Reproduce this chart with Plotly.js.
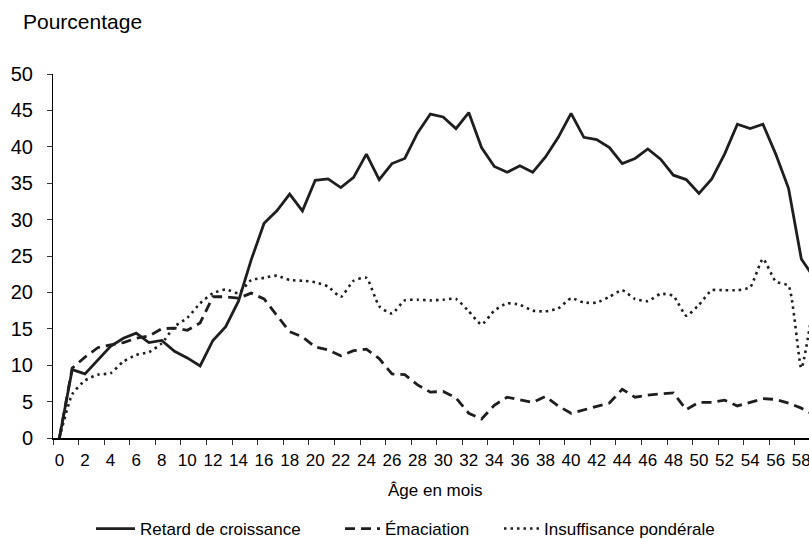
<!DOCTYPE html>
<html>
<head>
<meta charset="utf-8">
<script src="https://cdn.plot.ly/plotly-3.0.1.min.js"></script>
<style>html,body{margin:0;padding:0;background:#fff;overflow:hidden;}</style>
</head>
<body>
<div id="chart" style="width:809px;height:539px;"></div>
<script>
const ages = [];
for (let m = 0; m <= 59; m++) ages.push(m);

const retardCroissance = [0, 9.4, 8.8, 10.7, 12.6, 13.7, 14.4, 13.1, 13.4, 11.9,
  11.0, 9.9, 13.4, 15.3, 18.8, 24.5, 29.5, 31.2, 33.5, 31.2,
  35.4, 35.6, 34.4, 35.8, 39.0, 35.5, 37.7, 38.4, 41.9, 44.5,
  44.1, 42.5, 44.7, 39.9, 37.3, 36.5, 37.4, 36.5, 38.6, 41.3,
  44.6, 41.3, 41.0, 39.9, 37.7, 38.4, 39.7, 38.3, 36.1, 35.5,
  33.6, 35.6, 39.0, 43.1, 42.5, 43.1, 39.0, 34.3, 24.6, 22.0];

const emaciation = [0, 9.6, 11.1, 12.4, 12.8, 13.1, 13.7, 14.0, 15.0, 15.1,
  14.8, 15.8, 19.4, 19.4, 19.2, 19.9, 19.1, 16.9, 14.6, 13.9,
  12.5, 12.1, 11.3, 12.0, 12.2, 10.9, 8.8, 8.7, 7.3, 6.3,
  6.4, 5.5, 3.4, 2.6, 4.5, 5.6, 5.2, 4.9, 5.7, 4.4,
  3.4, 3.9, 4.3, 4.8, 6.7, 5.6, 5.9, 6.0, 6.2, 3.9,
  4.9, 4.9, 5.2, 4.4, 4.9, 5.4, 5.3, 4.8, 4.1, 3.2];

const insuffisancePonderale = [0, 6.0, 7.9, 8.7, 8.9, 10.5, 11.4, 11.8, 13.0, 15.3,
  16.5, 18.5, 19.9, 20.4, 19.9, 21.7, 22.0, 22.3, 21.7, 21.6,
  21.4, 20.8, 19.4, 21.6, 22.0, 18.1, 17.1, 18.9, 19.0, 18.9,
  19.0, 19.1, 17.4, 15.6, 17.5, 18.5, 18.3, 17.5, 17.4, 17.8,
  19.2, 18.6, 18.6, 19.4, 20.3, 19.1, 18.8, 19.8, 19.5, 16.8,
  18.3, 20.3, 20.3, 20.3, 20.7, 24.6, 21.5, 20.9, 9.6, 19.0];

const seriesNames = ['Retard de croissance', 'Émaciation', 'Insuffisance pondérale'];
const yTicks = [0, 5, 10, 15, 20, 25, 30, 35, 40, 45, 50];

const lineColor = '#1e1e1e';
const FONT = '"Liberation Sans", Arial, sans-serif';

const traces = [
  {x: ages, y: retardCroissance, name: seriesNames[0], type: 'scatter', mode: 'lines', legend: 'legend',
   line: {color: lineColor, width: 2.8, dash: 'solid'}},
  {x: ages, y: emaciation, name: seriesNames[1], type: 'scatter', mode: 'lines', legend: 'legend2',
   line: {color: lineColor, width: 2.8, dash: '10px,6px'}},
  {x: ages, y: insuffisancePonderale, name: seriesNames[2], type: 'scatter', mode: 'lines', legend: 'legend3',
   line: {color: lineColor, width: 2.6, dash: '2.5px,4px', shape: 'spline', smoothing: 0.5}}
];

function legendAt(px, textGapExtra) {
  return {orientation: 'h', x: (px - 53) / 756, xanchor: 'left', y: -0.25, yanchor: 'middle',
          itemwidth: 35 + (textGapExtra || 0), borderwidth: 0,
          font: {size: 17, family: FONT, color: '#000'}, bgcolor: 'rgba(0,0,0,0)'};
}

const layout = {
  width: 809, height: 539,
  margin: {l: 53, r: 0, t: 74, b: 101, pad: 0, autoexpand: false},
  paper_bgcolor: '#ffffff', plot_bgcolor: '#ffffff',
  font: {family: FONT, color: '#000'},
  showlegend: true,
  legend: legendAt(91, 4),
  legend2: legendAt(340),
  legend3: legendAt(499),
  xaxis: {
    type: 'category', range: [-0.5, 58.6], tickmode: 'linear', tick0: 0, dtick: 2,
    tickson: 'boundaries', ticks: 'outside', ticklen: 5, tickwidth: 1, tickcolor: '#333',
    showline: true, linecolor: '#000', linewidth: 2, showgrid: false, zeroline: false,
    tickangle: 0, automargin: false,
    tickfont: {size: 17, family: FONT, color: '#000'}, ticklabelstandoff: 6,
    fixedrange: true
  },
  yaxis: {
    range: [0, 50], tickmode: 'array', tickvals: yTicks, ticktext: yTicks.map(String),
    ticks: 'outside', ticklen: 5, tickwidth: 1, tickcolor: '#333',
    showline: true, linecolor: '#000', linewidth: 1, showgrid: false, zeroline: false,
    automargin: false,
    tickfont: {size: 20, family: FONT, color: '#000'}, ticklabelstandoff: 10,
    fixedrange: true
  },
  annotations: [{
    text: 'Pourcentage', xref: 'paper', yref: 'paper', x: -0.0423, y: 1.143,
    xanchor: 'left', yanchor: 'middle', showarrow: false,
    font: {size: 21, family: FONT, color: '#000'}
  }, {
    text: 'Âge en mois', xref: 'paper', yref: 'paper', x: 0.5066, y: -0.143,
    xanchor: 'center', yanchor: 'middle', showarrow: false,
    font: {size: 17, family: FONT, color: '#000'}
  }]
};

Plotly.newPlot('chart', traces, layout, {displayModeBar: false, staticPlot: true});
</script>
</body>
</html>
